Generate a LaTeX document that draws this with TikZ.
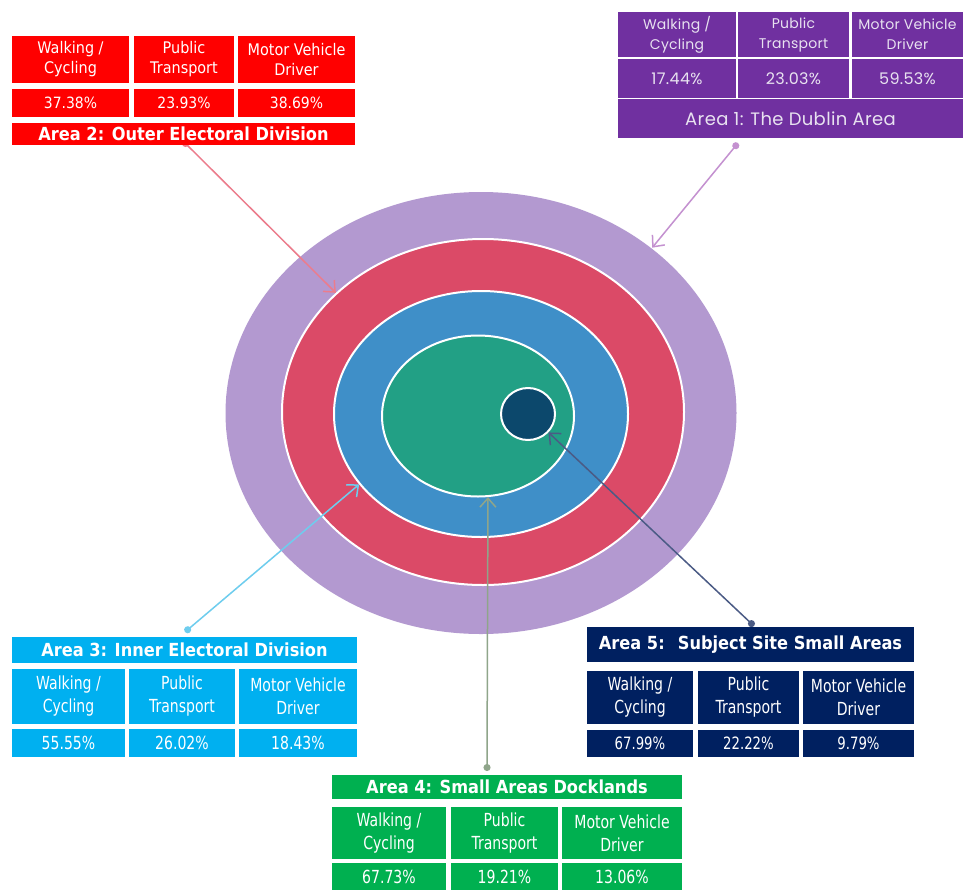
\documentclass[tikz,border=0pt]{standalone}
\usepackage{fontspec}
\setmainfont{DejaVu Sans}
\newfontfamily\cellfont[FakeStretch=0.9]{DejaVu Sans}
\newfontfamily\tightfont[FakeStretch=0.78]{DejaVu Sans}
\newfontfamily\roundfont[LetterSpace=2]{Poppins}
\usetikzlibrary{positioning,shapes.geometric,arrows.meta}
\definecolor{AreaRed}{RGB}{255,0,0}
\definecolor{AreaViolet}{RGB}{112,48,160}
\definecolor{AreaCyan}{RGB}{0,176,240}
\definecolor{AreaNavy}{RGB}{0,32,96}
\definecolor{AreaGreen}{RGB}{0,176,80}
\definecolor{RingViolet}{RGB}{179,153,208}
\definecolor{RingRed}{RGB}{219,74,103}
\definecolor{RingBlue}{RGB}{63,143,200}
\definecolor{RingGreen}{RGB}{34,160,133}
\definecolor{RingNavy}{RGB}{12,72,108}

\begin{document}
\begin{tikzpicture}[x=1pt, y=-1pt,
    % Style for the rings
    ring/.style={
        ellipse, inner sep=0pt, draw=white, line width=2pt
    },
    % Style for a table cell
    cell/.style={
        inner sep=0pt, align=center, text=white,
        font=\cellfont\fontsize{16}{20}\selectfont
    },
    % Narrow cells (areas 3, 4, 5)
    narrowcell/.style={
        cell, font=\tightfont\fontsize{18}{23}\selectfont
    },
    % Style for the area title bar
    areatitle/.style={
        inner sep=0pt, text=white,
        font=\cellfont\bfseries\fontsize{18}{20}\selectfont
    },
    % Style for the connectors
    link/.style={
        line width=1.5pt, {Circle[length=7pt]}-{Straight Barb[length=9pt,width=16pt]}
    }
]
    \useasboundingbox (0,0) rectangle (963,889);
    \fill[white] (0,0) rectangle (963,889);

    % --- 1. Rings ---
    \node[ring, draw=none, fill=RingViolet, minimum width=511pt, minimum height=442pt] (dublin) at (481,413) {};
    \node[ring, fill=RingRed, minimum width=402pt, minimum height=346pt] (outer) at (483,412) {};
    \node[ring, fill=RingBlue, minimum width=294pt, minimum height=246pt] (inner) at (481,414) {};
    \node[ring, fill=RingGreen, minimum width=192pt, minimum height=161pt] (docks) at (478,416) {};
    \node[ring, fill=RingNavy, minimum width=54pt, minimum height=52pt] (site) at (528,414) {};

    % --- 2. Connectors ---
    \coordinate (p1) at (738,143);
    \coordinate (p2) at (183,141);
    \coordinate (p3) at (185,632);
    \coordinate (p4) at (487,771);
    \coordinate (p5) at (754,626);
    \draw[link, color={rgb,255:red,196;green,145;blue,208}] (p1) -- (dublin.44);
    \draw[link, color={rgb,255:red,236;green,124;blue,140}] (p2) -- (outer.141);
    \draw[link, color={rgb,255:red,110;green,205;blue,238}] (p3) -- (inner.210);
    \draw[link, color={rgb,255:red,143;green,165;blue,138}] (p4) -- (docks.277);
    \draw[link, color={rgb,255:red,75;green,91;blue,133}] (p5) -- (site.318);

    % --- 3. Area 1: The Dublin Area ---
    \begin{scope}[every node/.style={cell, fill=AreaViolet, text={rgb,255:red,232;green,226;blue,240},
                  font=\roundfont\fontsize{14}{20}\selectfont}]
    \node[minimum width=118pt, minimum height=45pt] (A1w) at (677,34.5) {Walking /\\Cycling};
    \node[minimum width=111pt, minimum height=45pt] (A1p) at (793.5,34.5) {Public\\Transport};
    \node[minimum width=111pt, minimum height=45pt] (A1m) at (907.5,34.5) {Motor Vehicle\\Driver};
    \node[minimum width=118pt, minimum height=39pt, font=\roundfont\fontsize{16}{20}\selectfont] (A1wv) at (677,78.5) {17.44\%};
    \node[minimum width=111pt, minimum height=39pt, font=\roundfont\fontsize{16}{20}\selectfont] (A1pv) at (793.5,78.5) {23.03\%};
    \node[minimum width=111pt, minimum height=39pt, font=\roundfont\fontsize{16}{20}\selectfont] (A1mv) at (907.5,78.5) {59.53\%};
    \node[minimum width=345pt, minimum height=39pt, font=\roundfont\fontsize{18}{20}\selectfont] (A1t) at (790.5,118.5) {Area 1: The Dublin Area};
    \end{scope}

    % --- 4. Area 2: Outer Electoral Division ---
    \begin{scope}[every node/.style={cell, fill=AreaRed}]
    \node[minimum width=117pt, minimum height=47pt] (A2w) at (70.5,59.5) {Walking /\\Cycling};
    \node[minimum width=100pt, minimum height=47pt] (A2p) at (184,59.5) {Public\\Transport};
    \node[minimum width=117pt, minimum height=47pt] (A2m) at (296.5,59.5) {Motor Vehicle\\Driver};
    \node[minimum width=117pt, minimum height=28pt, font=\cellfont\fontsize{15.5}{18}\selectfont] (A2wv) at (70.5,103) {37.38\%};
    \node[minimum width=100pt, minimum height=28pt, font=\cellfont\fontsize{15.5}{18}\selectfont] (A2pv) at (184,103) {23.93\%};
    \node[minimum width=117pt, minimum height=28pt, font=\cellfont\fontsize{15.5}{18}\selectfont] (A2mv) at (296.5,103) {38.69\%};
    \node[areatitle, fill=AreaRed, minimum width=343pt, minimum height=22pt] (A2t) at (183.5,134) {Area 2: Outer Electoral Division};
    \end{scope}

    % --- 5. Area 3: Inner Electoral Division ---
    \begin{scope}[every node/.style={narrowcell, fill=AreaCyan}]
    \node[areatitle, fill=AreaCyan, minimum width=345pt, minimum height=26pt] (A3t) at (184.5,650) {Area 3: Inner Electoral Division};
    \node[minimum width=113pt, minimum height=55pt] (A3w) at (68.5,696.5) {Walking /\\Cycling};
    \node[minimum width=106pt, minimum height=55pt] (A3p) at (182,696.5) {Public\\Transport};
    \node[minimum width=118pt, minimum height=55pt] (A3m) at (298,696.5) {Motor Vehicle\\Driver};
    \node[minimum width=113pt, minimum height=28pt, font=\tightfont\fontsize{18}{20}\selectfont] (A3wv) at (68.5,743) {55.55\%};
    \node[minimum width=106pt, minimum height=28pt, font=\tightfont\fontsize{18}{20}\selectfont] (A3pv) at (182,743) {26.02\%};
    \node[minimum width=118pt, minimum height=28pt, font=\tightfont\fontsize{18}{20}\selectfont] (A3mv) at (298,743) {18.43\%};
    \end{scope}

    % --- 6. Area 5: Subject Site Small Areas ---
    \begin{scope}[every node/.style={narrowcell, fill=AreaNavy}]
    \node[areatitle, fill=AreaNavy, minimum width=327pt, minimum height=35pt] (A5t) at (750.5,644.5) {Area 5:~ Subject Site Small Areas};
    \node[minimum width=106pt, minimum height=53pt] (A5w) at (640,697.5) {Walking /\\Cycling};
    \node[minimum width=101pt, minimum height=53pt] (A5p) at (748.5,697.5) {Public\\Transport};
    \node[minimum width=111pt, minimum height=53pt] (A5m) at (858.5,697.5) {Motor Vehicle\\Driver};
    \node[minimum width=106pt, minimum height=27pt, font=\tightfont\fontsize{17}{20}\selectfont] (A5wv) at (640,743.5) {67.99\%};
    \node[minimum width=101pt, minimum height=27pt, font=\tightfont\fontsize{17}{20}\selectfont] (A5pv) at (748.5,743.5) {22.22\%};
    \node[minimum width=111pt, minimum height=27pt, font=\tightfont\fontsize{17}{20}\selectfont] (A5mv) at (858.5,743.5) {9.79\%};
    \end{scope}

    % --- 7. Area 4: Small Areas Docklands ---
    \begin{scope}[every node/.style={narrowcell, fill=AreaGreen}]
    \node[areatitle, fill=AreaGreen, minimum width=350pt, minimum height=24pt] (A4t) at (507,787) {Area 4: Small Areas Docklands};
    \node[minimum width=114pt, minimum height=52pt] (A4w) at (389,833) {Walking /\\Cycling};
    \node[minimum width=107pt, minimum height=52pt] (A4p) at (504.5,833) {Public\\Transport};
    \node[minimum width=120pt, minimum height=52pt] (A4m) at (622,833) {Motor Vehicle\\Driver};
    \node[minimum width=114pt, minimum height=28pt, font=\tightfont\fontsize{18}{20}\selectfont] (A4wv) at (389,877) {67.73\%};
    \node[minimum width=107pt, minimum height=28pt, font=\tightfont\fontsize{18}{20}\selectfont] (A4pv) at (504.5,877) {19.21\%};
    \node[minimum width=120pt, minimum height=28pt, font=\tightfont\fontsize{18}{20}\selectfont] (A4mv) at (622,877) {13.06\%};
    \end{scope}

\end{tikzpicture}
\end{document}
